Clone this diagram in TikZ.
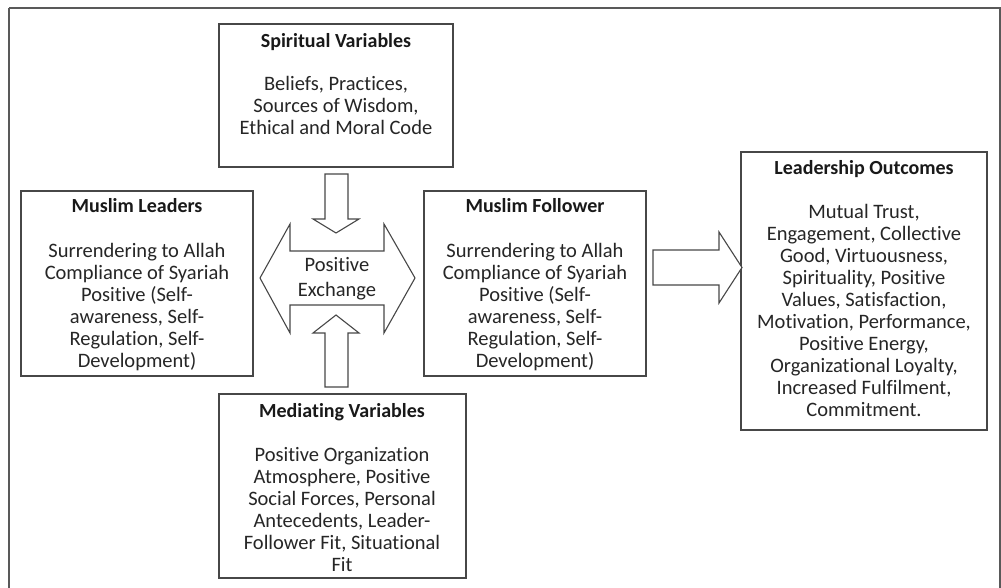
\documentclass[tikz,border=0pt]{standalone}
\usepackage{fontspec}
\setmainfont{Carlito}[Ligatures=NoCommon]
\begin{document}
\begin{tikzpicture}[x=1pt,y=-1pt,
  frame/.style={draw=black!65, line width=1.3pt},
  box/.style={draw=black!72, line width=1.2pt},
  blk/.style={draw=black!72, line width=1.1pt, fill=white, line join=miter},
  ttl/.style={font=\fontsize{20}{22}\selectfont\bfseries, text=black!90, anchor=base, inner sep=0pt},
  bodytxt/.style={font=\fontsize{20.5}{22}\selectfont, text=black!85, align=center, anchor=base, inner sep=0pt}]
\useasboundingbox (0,0) rectangle (1001,588);
\fill[white] (0,0) rectangle (1001,588);
% outer frame (bottom edge lies below the picture)
\draw[frame] (9,8) -- (9,600) (9,8) -- (1000,8) -- (1000,600);

% boxes
\draw[box] (219,24) rectangle (453,167);
\draw[box] (21,191) rectangle (253,376);
\draw[box] (424,191) rectangle (646,376);
\draw[box] (219,394) rectangle (466,578);
\draw[box] (741,152) rectangle (987,430);

% Spiritual Variables (multi-line nodes are anchored at their last baseline)
\node[ttl] (spT) at (336,48) {Spiritual Variables};
\node[bodytxt] (spB) at (336,135) {Beliefs, Practices,\\Sources of Wisdom,\\Ethical and Moral Code};

% Muslim Leaders
\node[ttl] (mlT) at (137,213) {Muslim Leaders};
\node[bodytxt] (mlB) at (137,367) {Surrendering to Allah\\Compliance of Syariah\\Positive (Self-\\awareness, Self-\\Regulation, Self-\\Development)};

% Muslim Follower
\node[ttl] (mfT) at (535,213) {Muslim Follower};
\node[bodytxt] (mfB) at (535,367) {Surrendering to Allah\\Compliance of Syariah\\Positive (Self-\\awareness, Self-\\Regulation, Self-\\Development)};

% Mediating Variables
\node[ttl] (mvT) at (342,417) {Mediating Variables};
\node[bodytxt] (mvB) at (342,571) {Positive Organization\\Atmosphere, Positive\\Social Forces, Personal\\Antecedents, Leader-\\Follower Fit, Situational\\Fit};

% Leadership Outcomes
\node[ttl] (loT) at (864,175) {Leadership Outcomes};
\node[bodytxt] (loB) at (864,416) {Mutual Trust,\\Engagement, Collective\\Good, Virtuousness,\\Spirituality, Positive\\Values, Satisfaction,\\Motivation, Performance,\\Positive Energy,\\Organizational Loyalty,\\Increased Fulfilment,\\Commitment.};

% double block arrow: Positive Exchange
\draw[blk] (260,278) -- (290,224) -- (290,251) -- (384,251) -- (384,224) -- (415,278)
  -- (384,333) -- (384,305) -- (290,305) -- (290,333) -- cycle;
\node[bodytxt] (pe) at (337,271) {Positive};
\node[bodytxt] (pe2) at (337,296) {Exchange};

% down arrow from Spiritual Variables
\draw[blk] (325,174) -- (348,174) -- (348,219) -- (359,219) -- (336,233) -- (313,219) -- (325,219) -- cycle;
% up arrow from Mediating Variables
\draw[blk] (325,387) -- (325,333) -- (313,333) -- (336,315) -- (359,333) -- (348,333) -- (348,387) -- cycle;
% right arrow to Leadership Outcomes
\draw[blk] (653,250) -- (719,250) -- (719,232) -- (742,267.5) -- (719,303) -- (719,285) -- (653,285) -- cycle;
\end{tikzpicture}
\end{document}
